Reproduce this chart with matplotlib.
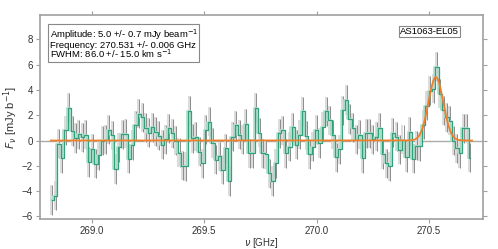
import numpy as np
import matplotlib
matplotlib.use("Agg")
import matplotlib.pyplot as plt

plt.rcParams['font.family'] = ['Liberation Sans', 'DejaVu Sans']
plt.rcParams['mathtext.fontset'] = 'dejavusans'

# ---- data ----
freq_start = 268.8245   # GHz, first channel centre
chan_width = 0.01488    # GHz
flux = [-4.7, -4.35, -0.25, -1.4, 0.82, 2.6, 0.75, 0.2, 0.5, 0.25,
        0.45, -1.7, -0.65, -1.85, -1.15, 0.0, 0.05, 0.85, 0.4, -2.25,
        -0.55, 0.5, 0.55, -1.45, -0.35, 1.2, 2.1, 1.85, 1.0, 0.6,
        1.05, 0.7, 0.37, -0.34, 0.1, 0.97, 0.58, 0.0, -0.95, -2.0,
        -2.05, 2.35, 0.18, 0.3, -0.87, -1.8, 0.84, 1.5, -0.2, -1.5,
        -1.26, -2.3, -0.6, -3.2, 0.3, 1.2, 0.45, 0.05, 1.3, -1.0,
        -1.0, 2.6, 0.6, -1.0, -1.1, -2.6, -3.2, -1.8, 0.58, 0.8,
        -1.0, -0.5, 1.05, -0.34, 0.45, 2.3, 0.37, -1.08, -0.5, 0.84,
        -0.2, 1.1, 2.3, 1.6, 0.45, -1.34, -0.7, 2.4, 3.2, 1.7,
        1.0, 0.05, 0.45, -1.4, 0.58, 0.58, 0.1, 0.3, 1.0, -1.1,
        -1.8, -2.05, 0.63, 0.3, -0.74, 0.05, -1.3, 0.7, -1.45, -0.4,
        -0.47, 1.24, 2.76, 3.95, 4.1, 5.84, 3.7, 2.4, 1.84, 1.55,
        0.0, -0.6, -1.0, 0.97, 0.97, -1.35]
flux_err = [1.15] * len(flux)

amp, amp_err = 5.0, 0.7          # mJy/beam
nu0, nu0_err = 270.531, 0.006    # GHz
fwhm, fwhm_err = 86.0, 15.0      # km/s
source = "AS1063-EL05"

xticks = [269.0, 269.5, 270.0, 270.5]
yticks = [-6, -4, -2, 0, 2, 4, 6, 8]

# ---- derived ----
flux = np.array(flux)
flux_err = np.array(flux_err)
freq = freq_start + chan_width * np.arange(len(flux))
c_kms = 299792.458
sigma = fwhm / c_kms * nu0 / 2.3548
fmod = np.linspace(freq[0] - chan_width / 2, freq[-1] + chan_width / 2, 1000)
model = amp * np.exp(-0.5 * ((fmod - nu0) / sigma) ** 2)

dark_green = '#33a07c'
light_green = '#b3e0ce'
orange = '#f07f2a'

fig = plt.figure(figsize=(4.98, 2.49), dpi=100)
ax = fig.add_axes([0.0803, 0.1205, 0.8897, 0.8195])

ax.axhline(0, color='#aaaaaa', lw=1.0, zorder=1)

shift = -0.3 * chan_width
ax.errorbar(freq + shift, flux, yerr=flux_err, fmt='none', ecolor='#dcdcdc',
            elinewidth=1.4, capsize=0, zorder=2)
ax.errorbar(freq, flux, yerr=flux_err, fmt='none', ecolor='#8c8c8c',
            elinewidth=0.7, capsize=0, zorder=3)
ax.step(freq + shift, flux, where='mid', color=light_green, lw=1.3, zorder=4)
ax.step(freq, flux, where='mid', color=dark_green, lw=0.9, zorder=5)
ax.plot(fmod, model, color=orange, lw=1.3, zorder=6)

ax.set_xlim(268.769, 270.741)
ax.set_ylim(-6.2, 9.92)
ax.set_xticks(xticks)
ax.set_yticks(yticks)
ax.xaxis.set_major_formatter(matplotlib.ticker.FormatStrFormatter('%.1f'))

for s in ax.spines.values():
    s.set_color('#a0a0a0')
    s.set_linewidth(1.2)
ax.tick_params(which='both', direction='out', top=True, right=True,
               labeltop=False, labelright=False, color='#a0a0a0',
               labelcolor='#333333', labelsize=7, length=3, pad=2)

ax.set_xlabel(r'$\nu$ [GHz]', fontsize=7, color='#333333', labelpad=0)
ax.set_ylabel(r'$F_\nu$ [mJy b$^{-1}$]', fontsize=8, color='#333333', labelpad=1)

info = (f"Amplitude: {amp:.1f} +/- {amp_err:.1f} mJy beam$^{{-1}}$\n"
        f"Frequency: {nu0:.3f} +/- {nu0_err:.3f} GHz\n"
        f"FWHM: {fwhm:.1f} +/- {fwhm_err:.1f} km s$^{{-1}}$")
ax.text(0.022, 0.94, info, transform=ax.transAxes, fontsize=6.8, va='top',
        ha='left', linespacing=0.82, color='black',
        bbox=dict(boxstyle='square,pad=0.15', fc='white', ec='#888888', lw=0.8))
ax.text(0.945, 0.94, source, transform=ax.transAxes, fontsize=6.8, va='top',
        ha='right', color='black',
        bbox=dict(boxstyle='square,pad=0.1', fc='white', ec='#888888', lw=0.8))

fig.savefig('out.png', dpi=100)
